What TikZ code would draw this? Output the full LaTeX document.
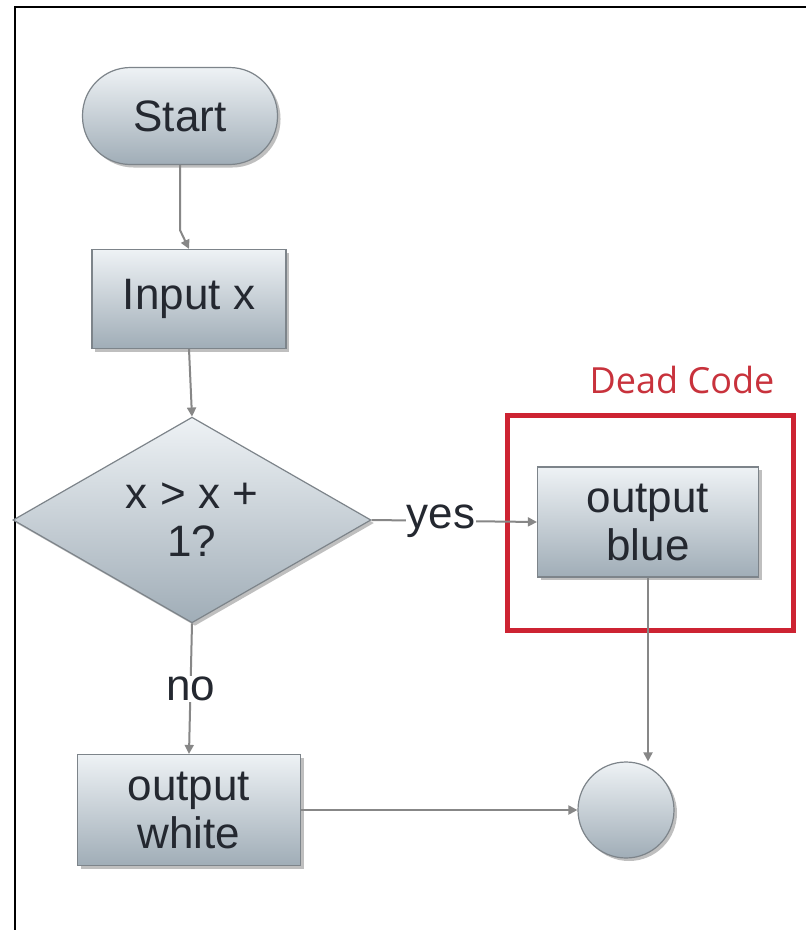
\documentclass[tikz,border=0pt]{standalone}
\usepackage{fontspec}
\setmainfont{Liberation Sans}
\newfontfamily\deadfont{Open Sans}
\usetikzlibrary{shapes.geometric,shadows,arrows.meta}
\definecolor{boxtop}{RGB}{238,242,245}
\definecolor{boxbot}{RGB}{160,173,183}
\definecolor{boxline}{RGB}{125,132,138}
\definecolor{txt}{RGB}{36,40,48}
\definecolor{conncol}{RGB}{135,135,135}
\definecolor{deadred}{RGB}{205,35,50}
\definecolor{deadtxt}{RGB}{200,50,60}
\tikzset{
  flow/.style={draw=boxline, line width=1.2pt, top color=boxtop, bottom color=boxbot,
    text=txt, font=\fontsize{44}{48}\selectfont, align=center, inner sep=0pt,
    drop shadow={shadow xshift=3pt, shadow yshift=-3pt, opacity=0.25, fill=black}},
  procbox/.style={flow, rectangle},
  termbox/.style={flow, rectangle, rounded corners=48pt},
  decbox/.style={flow, diamond},
  endcirc/.style={flow, circle},
  conn/.style={draw=conncol, line width=2pt, -{Triangle[width=9pt,length=9pt]}},
  lbl/.style={fill=white, text=txt, font=\fontsize{44}{48}\selectfont, inner sep=1pt},
}
\begin{document}
\begin{tikzpicture}[x=1pt,y=-1pt]
\useasboundingbox (0,0) rectangle (806,930);
\fill[white] (0,0) rectangle (806,930);
% frame
\draw[black, line width=2.2pt] (15,930) -- (15,7) -- (806,7);
% nodes
\node[termbox, minimum width=195pt, minimum height=97pt] (start) at (180,116) {Start};
\node[procbox, minimum width=194pt, minimum height=99pt] (input) at (189,299) {Input x};
\node[decbox, minimum width=358pt, minimum height=188pt] (dec) at (192,520) {x > x +\\1?};
\node[procbox, minimum width=221pt, minimum height=110pt] (blue) at (648,522) {output\\blue};
\node[procbox, minimum width=223pt, minimum height=111pt] (white) at (189,810) {output\\white};
\node[endcirc, minimum size=96pt] (circ) at (626,810) {};
% dead code box
\draw[deadred, line width=5pt] (507,415) rectangle (793,630);
\node[text=deadtxt, font=\deadfont\fontsize{36}{40}\selectfont] (dead) at (682,380) {Dead Code};
% connectors
\draw[conn] (start.south) -- ++(0,65) -- (input.north);
\draw[conn] (input.south) -- (dec.north);
\draw[conn] (dec.east) -- node[lbl, pos=0.42] {yes} (blue.west);
\draw[conn] (dec.south) -- node[lbl, pos=0.5] {no} (white.north);
\draw[conn] (blue.south) -- (blue.south |- circ.north);
\draw[conn] (white.east) -- (circ.west);
\end{tikzpicture}
\end{document}
